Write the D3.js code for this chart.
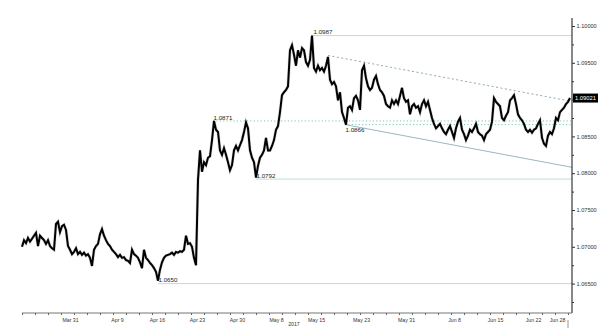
<!DOCTYPE html>
<html>
<head>
<meta charset="utf-8">
<script src="https://cdn.jsdelivr.net/npm/d3@7/dist/d3.min.js"></script>
<style>
  html, body { margin: 0; padding: 0; background: #fff; }
  svg { display: block; }
  text { font-family: "Liberation Sans", Arial, sans-serif; }
</style>
</head>
<body>
<svg id="chart" width="600" height="331"></svg>
<script>
// ---- data ----
const prices = [
  1.0700,1.0709,1.0705,1.0712,1.0707,1.0711,1.0715,1.0719,1.0701,1.0715,
  1.0712,1.0709,1.0704,1.0709,1.0701,1.0698,1.0696,1.0731,1.0734,1.0720,
  1.0728,1.0730,1.0723,1.0701,1.0696,1.0690,1.0693,1.0698,1.0690,1.0693,
  1.0689,1.0692,1.0688,1.0690,1.0685,1.0674,1.0696,1.0701,1.0704,1.0717,
  1.0724,1.0715,1.0709,1.0704,1.0701,1.0696,1.0693,1.0690,1.0686,1.0689,
  1.0685,1.0686,1.0682,1.0681,1.0678,1.0696,1.0690,1.0688,1.0685,1.0679,
  1.0671,1.0696,1.0685,1.0682,1.0678,1.0675,1.0671,1.0666,1.0654,1.0669,
  1.0679,1.0685,1.0688,1.0689,1.0690,1.0692,1.0689,1.0693,1.0692,1.0694,
  1.0693,1.0696,1.0715,1.0704,1.0705,1.0700,1.0685,1.0675,1.0791,1.0831,
  1.0802,1.0815,1.0811,1.0821,1.0823,1.0845,1.0871,1.0859,1.0856,1.0831,
  1.0825,1.0834,1.0825,1.0815,1.0804,1.0811,1.0831,1.0837,1.0831,1.0838,
  1.0845,1.0856,1.0869,1.0861,1.0831,1.0821,1.0815,1.0794,1.0810,1.0821,
  1.0825,1.0831,1.0848,1.0831,1.0831,1.0837,1.0845,1.0859,1.0864,1.0883,
  1.0906,1.0910,1.0913,1.0918,1.0967,1.0974,1.0961,1.0946,1.0967,1.0957,
  1.0970,1.0967,1.0951,1.0946,1.0954,1.0987,1.0943,1.0938,1.0946,1.0940,
  1.0943,1.0938,1.0946,1.0958,1.0927,1.0921,1.0924,1.0918,1.0899,1.0910,
  1.0883,1.0875,1.0866,1.0889,1.0891,1.0886,1.0902,1.0905,1.0899,1.0886,
  1.0940,1.0946,1.0929,1.0918,1.0913,1.0916,1.0927,1.0932,1.0921,1.0913,
  1.0910,1.0905,1.0894,1.0891,1.0889,1.0899,1.0894,1.0899,1.0894,1.0905,
  1.0916,1.0902,1.0897,1.0899,1.0880,1.0891,1.0894,1.0889,1.0891,1.0883,
  1.0894,1.0899,1.0891,1.0897,1.0886,1.0875,1.0867,1.0861,1.0864,1.0867,
  1.0861,1.0856,1.0853,1.0859,1.0864,1.0856,1.0848,1.0861,1.0870,1.0875,
  1.0859,1.0853,1.0845,1.0851,1.0859,1.0856,1.0861,1.0867,1.0856,1.0853,
  1.0851,1.0845,1.0853,1.0856,1.0859,1.0870,1.0902,1.0897,1.0894,1.0891,
  1.0875,1.0872,1.0878,1.0883,1.0899,1.0902,1.0906,1.0894,1.0880,1.0875,
  1.0872,1.0867,1.0859,1.0856,1.0859,1.0855,1.0859,1.0861,1.0867,1.0872,
  1.0848,1.0840,1.0837,1.0851,1.0856,1.0853,1.0861,1.0875,1.0872,1.0883,
  1.0886,1.0889,1.0894,1.0897,1.09021
];
const xTickLabels = ["Mar 31","Apr 9","Apr 16","Apr 23","Apr 30","May 8","May 15","May 23","May 31","Jun 8","Jun 15","Jun 22","Jun 28"];
const xTickIndex  = [24, 47.5, 67.5, 87.5, 107.5, 127, 147, 169.5, 192, 216, 236.5, 255.5, 267.5];
const yearLabel = "2017";
const yTicks = [1.065, 1.070, 1.075, 1.080, 1.085, 1.090, 1.095, 1.100];
const levelValues = [1.0987, 1.0871, 1.0866, 1.0792, 1.0650];
const levelStartIndex = [145.5, 95.5, 161.5, 117, 68];
const upperTrend = [[153, 1.0960], [274, 1.0898]];
const lowerTrend = [[161.5, 1.0866], [275, 1.0808]];

// ---- drawing ----
const svg = d3.select("#chart");
const x = d3.scaleLinear().domain([0, prices.length - 1]).range([22, 570]);
const y = d3.scaleLinear().domain([1.065, 1.100]).range([283.6, 26]);
const axisX = 572, axisY = 313;
const last = prices[prices.length - 1];

// level lines
const dotted = new Set([1.0871, 1.0866]);
const below = new Set([1.0866]);
levelValues.forEach((v, i) => {
  const x0 = x(levelStartIndex[i]);
  svg.append("line")
    .attr("x1", x0).attr("x2", axisX)
    .attr("y1", y(v)).attr("y2", y(v))
    .attr("stroke", dotted.has(v) ? "#7cc7b0" : "#b9e0d6")
    .attr("stroke-width", 1)
    .attr("stroke-dasharray", dotted.has(v) ? "1.2,2.2" : null);
  svg.append("text")
    .attr("x", x0 + 0.5)
    .attr("y", below.has(v) ? y(v) + 7 : y(v) - 1.2)
    .attr("font-size", 6.2)
    .attr("fill", "#222")
    .text(v.toFixed(4));
});

// trend lines
const tl = d3.line().x(d => x(d[0])).y(d => y(d[1]));
svg.append("path").attr("d", tl(upperTrend))
  .attr("fill", "none").attr("stroke", "#8ea9b8").attr("stroke-width", 1)
  .attr("stroke-dasharray", "2,2.5");
svg.append("path").attr("d", tl(lowerTrend))
  .attr("fill", "none").attr("stroke", "#9db6c0").attr("stroke-width", 1);

// price line
const line = d3.line().x((d, i) => x(i)).y(d => y(d));
svg.append("path").attr("d", line(prices))
  .attr("fill", "none").attr("stroke", "#999").attr("stroke-width", 3.2)
  .attr("stroke-linejoin", "miter").attr("opacity", 0.35);
svg.append("path").attr("d", line(prices))
  .attr("fill", "none").attr("stroke", "#000").attr("stroke-width", 2)
  .attr("stroke-linejoin", "miter");

// y axis (the label at the current-price tag is hidden by the tag)
const hidden = v => Math.abs(y(v) - y(last)) < 6;
const gy = svg.append("g").attr("transform", `translate(${axisX},0)`);
gy.call(d3.axisRight(y).tickValues(yTicks)
  .tickFormat(d => hidden(d) ? "" : d3.format(".5f")(d)).tickSize(3).tickPadding(1.5));
const yMinor = d3.range(yTicks.length - 1).map(i => (yTicks[i] + yTicks[i + 1]) / 2)
  .concat([yTicks[0] - 0.0025]);
const gy2 = svg.append("g").attr("transform", `translate(${axisX},0)`);
gy2.call(d3.axisRight(y).tickValues(yMinor).tickFormat("").tickSize(2));
gy2.select(".domain").remove();
gy.select(".domain").attr("d", `M0,18V${axisY}`).attr("stroke", "#111");
svg.selectAll("g .tick text").attr("font-size", 5.6).attr("fill", "#333")
  .attr("font-family", "Liberation Sans, Arial, sans-serif");
svg.selectAll("g .tick line").attr("stroke", "#333");

// current price tag
svg.append("rect").attr("x", axisX + 1).attr("y", y(last) - 4.5)
  .attr("width", 25).attr("height", 9).attr("fill", "#000");
svg.append("text").attr("x", axisX + 3).attr("y", y(last) + 2)
  .attr("font-size", 5.8).attr("fill", "#fff").text(d3.format(".5f")(last));

// x axis
const gx = svg.append("g").attr("transform", `translate(0,${axisY})`);
gx.call(d3.axisBottom(x).tickValues(xTickIndex).tickFormat((d, i) => xTickLabels[i]).tickSize(0).tickPadding(5));
gx.select(".domain").attr("d", `M22,0H${axisX}`).attr("stroke", "#777");
gx.selectAll("text").attr("font-size", 5.2).attr("fill", "#333");
const gx2 = svg.append("g").attr("transform", `translate(0,${axisY})`);
gx2.call(d3.axisBottom(x).tickValues(d3.range(0, prices.length, 6.5)).tickFormat("").tickSize(2));
gx2.select(".domain").remove();
gx2.selectAll("line").attr("stroke", "#666");

svg.append("text").attr("x", 294).attr("y", 326).attr("text-anchor", "middle")
  .attr("font-size", 5.2).attr("fill", "#333").text(yearLabel);

// small marker at bottom right
svg.append("rect").attr("x", 567).attr("y", 320).attr("width", 2).attr("height", 8).attr("fill", "#ccc");
</script>
</body>
</html>
